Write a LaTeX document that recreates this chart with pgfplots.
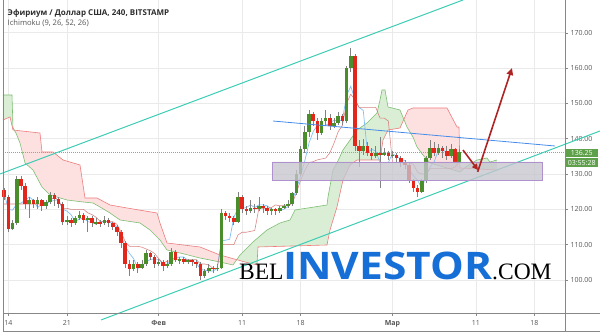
\documentclass[border=0pt]{standalone}
\usepackage{pgfplots}
\pgfplotsset{compat=1.18}
\usepackage{pgfplotstable}
\usetikzlibrary{arrows.meta}
\usepackage{graphicx}
\usepackage{fontspec}
\setmainfont{Open Sans}
\newfontfamily\wmserif{Liberation Serif}

\definecolor{txt}{RGB}{85,85,85}
\definecolor{hdr}{RGB}{45,45,45}
\definecolor{gridc}{RGB}{234,234,234}
\definecolor{framec}{RGB}{135,135,135}
\definecolor{upc}{RGB}{74,142,44}
\definecolor{dnc}{RGB}{226,38,28}
\definecolor{wick}{RGB}{130,130,130}
\definecolor{cloudG}{RGB}{218,238,213}
\definecolor{cloudR}{RGB}{253,224,224}
\definecolor{spanA}{RGB}{125,190,115}
\definecolor{spanB}{RGB}{238,125,125}
\definecolor{tenkanc}{RGB}{125,188,242}
\definecolor{kijunc}{RGB}{212,105,105}
\definecolor{chan}{RGB}{60,205,180}
\definecolor{trendblue}{RGB}{70,140,235}
\definecolor{lastp}{RGB}{120,190,100}
\definecolor{zonefill}{RGB}{198,197,206}
\definecolor{zoneedge}{RGB}{175,145,205}
\definecolor{arrowc}{RGB}{175,35,35}
\definecolor{tagg}{RGB}{95,160,75}
\definecolor{wmblue}{RGB}{22,110,215}

% 12-hour candles (day offset from 14 Jan): rising ones
\pgfplotstableread{
d o h l c
0.5 114.5 117 114 116
1 116 129.5 115.5 128.5
2.5 121.5 123.5 117.5 122.5
3.5 121.5 123.5 120 122.5
4.5 121 122.5 120 122
5 122 125 121.5 124
7 116.5 118 115.5 117
8 116 118 115.5 117.5
8.5 117.5 119.5 117 118.5
9.5 117 118 113.5 117.5
10.5 116 117.5 115.5 116.5
11.5 116 118 115.5 117
15 103 105.5 102.5 104.5
16 103.5 105.5 103 104.5
16.5 104.5 108.5 104 107.5
18 104.5 106 104 105
19 104 105.5 103.5 104.5
19.5 104.5 109 104 108
20.5 105.5 106.5 104.5 106
21.5 105 106 104.5 105.5
23.5 101 103 100.5 102.5
24 102.5 104.5 102 103.5
25 103 104.5 102.5 103.5
25.5 103.5 120 103 119
27.5 116.5 125 116 123.5
29 119.5 122.5 119 120.5
30 120 123.5 119.5 121
31.5 119.5 120.5 118.5 120
32.5 119.5 121 119 120.5
33 120.5 121.5 120 121
33.5 121 122.5 120.5 121.5
34 121.5 125 121 124.5
34.5 124.5 131 124 130
35 130 138 129.5 137
35.5 137 143.5 136 142
36 142 148 140.5 147
37.5 141.5 146 141 145
38 145 148 144 146
39 143.5 146 143 144.5
39.5 144.5 147.5 144 146.5
40.5 145 160.5 144.5 160
41 160 165.7 159 163.5
42.5 136.5 140 135.5 138
44 135 138 134.5 136
45 135.5 137.5 135 136
46 135 136.5 134.5 135.5
49.5 125 128.5 124.5 128
50 128 135 127.5 134.5
50.5 134.5 139.5 134 137.5
51.5 136 138.5 135.5 137.5
53 135 138.5 134.5 137
54 133.5 137 133 136.25
}\candlesUp

% falling ones
\pgfplotstableread{
d o h l c
-0.5 125.5 126 122.5 123.5
0 123.5 124 113.5 114.5
1.5 128.5 129.5 125.5 126.5
2 126.5 127.5 120 121.5
3 122.5 123 120.5 121.5
4 122.5 123 119.5 121
5.5 124 124.5 121 123
6 123 123.5 120.5 121.5
6.5 121.5 122 115.5 116.5
7.5 117 117.5 115 116
9 118.5 119 116 117
10 117.5 118 115 116
11 116.5 117 115 116
12 117 117.5 115 116
12.5 116 116.5 114 115
13 115 115.5 112.5 113.5
13.5 113.5 114 109 110.5
14 110.5 111 103.5 104.5
14.5 104.5 105.5 101 103
15.5 104.5 105 102 103.5
17 107.5 108 105.5 106.5
17.5 106.5 107 103.5 104.5
18.5 105 105.5 102.5 104
20 108 108.5 105 105.5
21 106 106.5 104.5 105
22 105.5 106 104 105
22.5 105 105.5 103.5 104.5
23 104.5 105 100 101
24.5 103.5 104 102 103
26 119 119.5 117 118
26.5 118 119 116.5 117.5
27 117.5 118 115.5 116.5
28 123.5 124 119 120
28.5 120 121 118.5 119.5
29.5 120.5 121.5 119 120
30.5 121 121.5 119 120.5
31 120.5 121 118.5 119.5
32 120 120.5 118.5 119.5
36.5 147 147.5 143.5 145
37 145 146 139.5 141.5
38.5 146 147 142.5 143.5
40 146.5 147 144 145
41.5 163.5 164 136.5 138
42 138 139.5 132 136.5
43 138 139 135 136
43.5 136 137.5 134 135
44.5 136 140.5 126 135.5
45.5 136 136.5 134 135
46.5 135.5 136 133.5 134.5
47 134.5 135 132 133
47.5 133 134 131.5 132.5
48 132.5 133 127.5 128
48.5 128 128.5 125 126
49 126 127 123.5 125
51 137.5 139 135 136
52 137.5 138 134.5 136.5
52.5 136.5 138 134 135
53.5 137 137.5 133 133.5
}\candlesDown

% conversion line (9)
\pgfplotstableread{
d v
-0.5 124.5
0 120
0.5 119.75
1 121.5
1.5 121.75
2 122.5
2.5 123.5
3 122.5
3.5 120.5
4 121.5
4.5 121.5
5 122.25
5.5 122.5
6 122.75
6.5 120
7 119.5
7.5 118.5
8 116.5
8.5 117.25
9 117.5
9.5 116.5
10 116.25
10.5 115.75
11 116.5
12 116.5
12.5 116
13 115
13.5 112.75
14 109.5
14.5 107.5
15 106
15.5 103.25
16 103.75
16.5 105.25
17 105.75
17.5 106
18 105.75
18.5 104.75
19 104.25
19.5 105.75
20 106.25
20.5 106.5
21 106.5
21.5 105.5
22 105.25
22.5 104.75
23 103
23.5 102.75
24 102.5
24.5 102.5
25 103.25
25.5 111
26 111.25
26.5 111.5
27 117.75
27.5 120.25
28 120.25
28.5 120.5
29 121.25
29.5 120.5
30 121.25
30.5 121.25
31 121
31.5 120
32 119.75
32.5 119.75
33 120
33.5 120.75
34 122.5
34.5 125.75
35 129.5
35.5 133.75
36 138.75
36.5 142
37 143.75
38 143.75
38.5 144.5
39 145.25
39.5 145
40 145.25
40.5 152.25
41 154.85
41.5 151.1
42 148.85
42.5 148
43 136
43.5 137
44 136.5
44.5 133.25
45.5 133.25
46 135.75
46.5 135
47 134.25
47.5 133.75
48 131.25
48.5 129.5
49 128.25
49.5 126
50 129.25
50.5 132
51 133.5
51.5 136.75
52 136.75
52.5 136.25
53 136.25
53.5 135.75
54 135.75
}\tenkan

% base line (26)
\pgfplotstableread{
d v
-0.5 121.5
3.5 121.5
4 121.5
4.5 121.75
5 122.5
5.5 123.5
6 122.5
6.5 120.25
7 120.25
7.5 120
9 120
9.5 119
10 118.5
10.5 117.75
11 116.5
12.5 116.5
13 115.75
13.5 113.5
14 110.75
14.5 109.5
15.5 109.5
16 109.25
16.5 108.75
17 108.25
17.5 107.5
18 106
18.5 104.75
19 105.25
19.5 105.5
20 105.75
22.5 105.75
23 104.5
23.5 104.5
24 104.25
24.5 103.25
25 103.25
25.5 110
27 110
27.5 112.75
28 113.5
28.5 113.5
29 113.75
29.5 114
30 120.25
31 120.25
31.5 120.5
32 121.25
32.5 121
33.5 121
34 121.75
34.5 124.75
35 128.25
35.5 131
36 133.25
36.5 133.5
37 134
37.5 134.25
38 134.5
38.5 136
39 138.75
39.5 142
40 143.75
40.5 150
41 152.6
41.5 151.1
42 148.85
44 148.85
44.5 145.85
45 145.85
45.5 145
46 133.25
48 133.25
48.5 132.75
49 130.5
49.5 130
50 130
50.5 131.5
53 131.5
53.5 132
54 133.5
}\kijun

% leading span A
\pgfplotstableread{
d v
-0.65 152.38
0.431 152.38
0.551 143.03
0.910 141.61
1.389 138.78
1.988 133.12
2.946 131.13
4.024 126.32
4.982 124.05
7.018 122.63
8.934 122.07
10.132 121.78
10.970 120.65
12.168 118.95
13.365 116.97
15.760 116.12
16.958 114.14
18.156 111.30
18.994 108.47
20.551 107.62
22.946 106.20
25.341 105.07
26.898 104.22
27.737 107.05
29.293 110.74
30.970 114.14
32.527 116.12
33.725 116.97
34.323 119.80
38.156 121.22
38.275 123.48
38.874 131.13
39.353 133.12
40.072 136.80
40.671 138.78
41.749 142.46
42.946 144.45
44.144 147.28
44.503 150.96
44.743 153.80
45.102 153.80
45.461 148.98
46.898 148.13
47.737 143.31
48.455 140.48
48.934 137.65
49.653 135.38
50.491 133.12
52.527 131.70
54.084 130.57
54.922 132.27
56.120 133.97
57.317 134.53
57.677 133.40
58.515 133.97
}\spanAtab

% leading span B
\pgfplotstableread{
d v
-0.65 145.30
0.192 146.15
0.551 142.46
3.784 141.61
4.024 136.23
5.341 136.23
6.539 133.97
8.575 132.55
9.174 123.20
10.611 123.20
12.168 121.22
14.204 120.37
17.796 118.95
18.156 116.12
18.994 110.45
22.946 109.32
25.341 107.05
28.335 105.07
29.772 104.22
29.892 109.32
38.156 109.89
38.515 114.14
39.353 120.65
40.072 128.30
40.910 132.55
41.749 133.97
44.503 133.97
44.862 139.63
45.461 142.46
46.898 143.03
47.856 148.13
48.455 148.70
52.527 148.70
53.725 143.31
53.964 143.31
54.084 131.70
58.515 131.13
}\spanBtab

\begin{document}
\begin{tikzpicture}
\path[use as bounding box] (0pt,0pt) rectangle (600pt,333pt);
\begin{axis}[
  at={(3pt,20pt)}, anchor=south west,
  scale only axis, width=562pt, height=313pt,
  xmin=-0.647, xmax=66.66, ymin=90.62, ymax=179.29,
  clip=false,
  axis line style={draw=none},
  grid=major, major grid style={draw=gridc, line width=0.6pt},
  xtick={0,7,18,28,35,46,56,63},
  xticklabels={14,21,{\bfseries Фев},11,18,{\bfseries Мар},11,18},
  ytick={100,110,...,170},
  xtick pos=bottom, ytick pos=right, yticklabel pos=right,
  tick align=outside, major tick length=3pt,
  tick style={draw=framec, line width=0.5pt},
  tick label style={font=\fontsize{7}{8}\selectfont, text=txt},
  xticklabel style={yshift=-0.5pt},
  yticklabel style={xshift=-1pt},
  /pgf/number format/assume math mode=true,
  yticklabel={\pgfmathprintnumber[fixed, fixed zerofill, precision=2]{\tick}},
]
% cloud: area between the two leading spans, split where they cross
\addplot[fill=cloudG, draw=none, forget plot] coordinates {
 (-0.65,152.38) (0.431,152.38) (0.551,143.03) (0.71,142.41)
 (0.551,142.46) (0.192,146.15) (-0.65,145.30)};
\addplot[fill=cloudR, draw=none, forget plot] coordinates {
 (0.71,142.41) (0.910,141.61) (1.389,138.78) (1.988,133.12) (2.946,131.13)
 (4.024,126.32) (4.982,124.05) (7.018,122.63) (8.934,122.07) (10.132,121.78)
 (10.970,120.65) (12.168,118.95) (13.365,116.97) (15.760,116.12) (16.958,114.14)
 (18.156,111.30) (18.994,108.47) (20.551,107.62) (22.946,106.20) (25.341,105.07)
 (26.898,104.22) (27.34,105.72)
 (25.341,107.05) (22.946,109.32) (18.994,110.45) (18.156,116.12) (17.796,118.95)
 (14.204,120.37) (12.168,121.22) (10.611,123.20) (9.174,123.20) (8.575,132.55)
 (6.539,133.97) (5.341,136.23) (4.024,136.23) (3.784,141.61)};
\addplot[fill=cloudG, draw=none, forget plot] coordinates {
 (27.34,105.72) (27.737,107.05) (29.293,110.74) (30.970,114.14) (32.527,116.12)
 (33.725,116.97) (34.323,119.80) (38.156,121.22) (38.275,123.48) (38.874,131.13)
 (39.353,133.12) (40.072,136.80) (40.671,138.78) (41.749,142.46) (42.946,144.45)
 (44.144,147.28) (44.503,150.96) (44.743,153.80) (45.102,153.80) (45.461,148.98)
 (46.898,148.13) (47.35,145.5)
 (46.898,143.03) (45.461,142.46) (44.862,139.63) (44.503,133.97) (41.749,133.97)
 (40.910,132.55) (40.072,128.30) (39.353,120.65) (38.515,114.14) (38.156,109.89)
 (29.892,109.32) (29.772,104.22) (28.335,105.07)};
\addplot[fill=cloudR, draw=none, forget plot] coordinates {
 (47.35,145.5) (47.737,143.31) (48.455,140.48) (48.934,137.65) (49.653,135.38)
 (50.491,133.12) (52.527,131.70) (54.084,130.57) (54.61,131.64)
 (54.084,131.70) (53.964,143.31) (53.725,143.31) (52.527,148.70) (48.455,148.70)
 (47.856,148.13)};
\addplot[fill=cloudG, draw=none, forget plot] coordinates {
 (54.61,131.64) (54.922,132.27) (56.120,133.97) (57.317,134.53) (57.677,133.40)
 (58.515,133.97) (58.515,131.13)};
\addplot[draw=spanA, line width=0.6pt] table[x=d,y=v]{\spanAtab};
\addplot[draw=spanB, line width=0.6pt] table[x=d,y=v]{\spanBtab};

% conversion and base lines
\addplot[draw=tenkanc, line width=0.65pt] table[x=d,y=v]{\tenkan};
\addplot[draw=kijunc, draw opacity=0.85, line width=0.55pt] table[x=d,y=v]{\kijun};

% last price line
\addplot[draw=lastp, line width=0.8pt, dash pattern=on 1pt off 1pt] coordinates {(-0.647,136.25) (66.66,136.25)};

% candle wicks
\addplot[draw=none, mark=none, forget plot,
  error bars/.cd, y dir=both, y explicit, error mark=none,
  error bar style={line width=0.7pt, draw=wick, solid}]
  table[x=d, y expr={(\thisrow{h}+\thisrow{l})/2}, y error expr={(\thisrow{h}-\thisrow{l})/2}]{\candlesUp};
\addplot[draw=none, mark=none, forget plot,
  error bars/.cd, y dir=both, y explicit, error mark=none,
  error bar style={line width=0.7pt, draw=wick, solid}]
  table[x=d, y expr={(\thisrow{h}+\thisrow{l})/2}, y error expr={(\thisrow{h}-\thisrow{l})/2}]{\candlesDown};
% rising bodies
\addplot[draw=none, mark=none, forget plot,
  error bars/.cd, y dir=both, y explicit, error mark=none,
  error bar style={line width=3.6pt, draw=upc, solid}]
  table[x=d, y expr={(\thisrow{o}+\thisrow{c})/2}, y error expr={(\thisrow{c}-\thisrow{o})/2}]{\candlesUp};
% falling bodies
\addplot[draw=none, mark=none, forget plot,
  error bars/.cd, y dir=both, y explicit, error mark=none,
  error bar style={line width=3.6pt, draw=dnc, solid}]
  table[x=d, y expr={(\thisrow{o}+\thisrow{c})/2}, y error expr={(\thisrow{o}-\thisrow{c})/2}]{\candlesDown};

% channel and trend lines
\addplot[draw=chan, line width=1pt] coordinates {(-1.006,130.0) (54.44,179.29)};
\addplot[draw=chan, line width=1pt] coordinates {(11.09,88.64) (70.85,142.18)};
\addplot[draw=trendblue, line width=0.8pt] coordinates {(31.69,145.01) (65.46,137.93)};

% support zone
\addplot[fill=zonefill, fill opacity=0.78, draw=zoneedge, line width=0.8pt]
  coordinates {(31.57,133.4) (63.9,133.4) (63.9,128.3) (31.57,128.3) (31.57,133.4)};

% expected path
\addplot[draw=arrowc, line width=1.6pt, -{Triangle[length=6pt,width=6pt]}]
  coordinates {(54.44,136.8) (56.24,131.13)};
\addplot[draw=arrowc, line width=1.6pt, -{Triangle[length=7pt,width=6.5pt]}]
  coordinates {(56.2,130.6) (60.31,160.03)};

% price tags
\node[fill=tagg, text=white, anchor=west, inner sep=0pt, minimum width=33pt, minimum height=8.5pt,
  font=\fontsize{7}{8}\selectfont] (tag1) at (axis cs:66.66,135.95) {136.25};
\node[fill=tagg, text=white, anchor=north, inner sep=0pt, minimum width=33pt, minimum height=8.5pt,
  font=\fontsize{7}{8}\selectfont] at ([yshift=-0.8pt]tag1.south) {03:55:28};
\end{axis}

% frame
\draw[framec, line width=0.8pt] (3pt,2pt) -- (3pt,333pt);
\draw[framec, line width=0.8pt] (565pt,2pt) -- (565pt,333pt);
\draw[framec, line width=0.8pt] (3pt,20pt) -- (600pt,20pt);
\draw[framec, line width=0.8pt] (3pt,2pt) -- (600pt,2pt);

% title
\node[anchor=base west, inner sep=0pt, text=hdr] at (7.5pt,318pt)
  {\fontsize{8}{9}\selectfont\bfseries Эфириум / Доллар США, 240, BITSTAMP};
\node[anchor=base west, inner sep=0pt, text=txt] at (7.5pt,308pt)
  {\fontsize{7.6}{9}\selectfont Ichimoku (9, 26, 52, 26)};

% watermark
\node[anchor=base west, inner sep=0pt] at (239pt,53.5pt)
  {\fontsize{23.5}{24}\selectfont\wmserif BEL};
\node[anchor=base west, inner sep=0pt] at (283pt,53.5pt)
  {\resizebox{209pt}{\height}{\fontsize{38}{38}\selectfont\bfseries\color{wmblue}INVESTOR}};
\node[anchor=base west, inner sep=0pt] at (492pt,53.5pt)
  {\fontsize{23.5}{24}\selectfont\wmserif .COM};
\end{tikzpicture}
\end{document}
